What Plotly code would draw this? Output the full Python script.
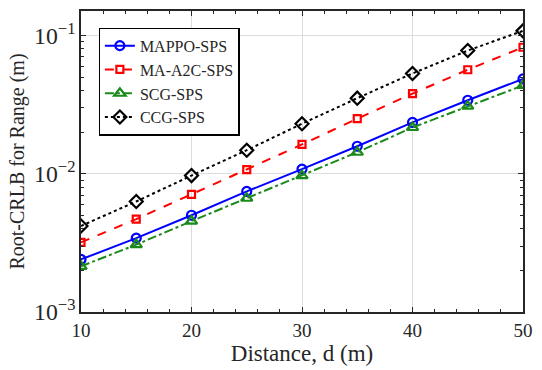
import plotly.graph_objects as go

distance = [10, 15, 20, 25, 30, 35, 40, 45, 50]
mappo = [0.00240, 0.00342, 0.00501, 0.00745, 0.0108, 0.0158, 0.0235, 0.0340, 0.0485]
ma_a2c = [0.00319, 0.00470, 0.0071, 0.0107, 0.0163, 0.0250, 0.0380, 0.0565, 0.0822]
scg = [0.00214, 0.00307, 0.00454, 0.00665, 0.00968, 0.0143, 0.0216, 0.0308, 0.0435]
ccg = [0.00419, 0.00630, 0.0097, 0.0148, 0.0230, 0.0352, 0.0531, 0.0778, 0.108]

font = "Liberation Serif"
dark = "#262626"
fig = go.Figure()
series = [
    ("MAPPO-SPS", mappo, "#0000ff", "solid", "circle-open", 9),
    ("MA-A2C-SPS", ma_a2c, "#ff0000", "dash", "square-open", 7),
    ("SCG-SPS", scg, "#1a8a1a", "dashdot", "triangle-up-open", 10),
    ("CCG-SPS", ccg, "#000000", "dot", "diamond-open", 10),
]
for name, vals, color, dash, sym, size in series:
    fig.add_trace(go.Scatter(
        x=distance, y=vals, name=name, mode="lines+markers",
        line=dict(color=color, width=2, dash=dash),
        marker=dict(symbol=sym, size=size, color=color, line=dict(width=2.2, color=color)),
    ))

# minor tick positions for the log axis (2..9 within each decade)
minor_y = [m * 10.0 ** e for e in (-3, -2, -1) for m in range(2, 10)]
minor_y = [v for v in minor_y if v < 0.15]
# invisible helper trace so the overlay axes are drawn
fig.add_trace(go.Scatter(x=[None], y=[None], xaxis="x2", yaxis="y2",
                         showlegend=False, hoverinfo="skip"))

axis_common = dict(
    showline=True, linecolor=dark, linewidth=1.5, mirror="allticks",
    ticks="inside", ticklen=5, tickcolor=dark,
    showgrid=True, gridcolor="#dcdcdc", gridwidth=1,
    zeroline=False, tickfont=dict(family=font, size=19, color=dark),
)
fig.update_xaxes(
    range=[10, 50], tickmode="linear", tick0=10, dtick=10,
    minor=dict(ticks="inside", ticklen=3, dtick=2, tickcolor=dark, showgrid=False),
    title=dict(text="Distance, d (m)", font=dict(family=font, size=23, color=dark), standoff=4),
    **axis_common,
)
fig.update_yaxes(
    type="log", range=[-3, -0.823], dtick=1, exponentformat="power",
    title=dict(text="Root-CRLB for Range (m)", font=dict(family=font, size=20, color=dark), standoff=4),
    **axis_common,
)
fig.update_layout(
    width=542, height=370,
    margin=dict(l=81, r=11, t=9, b=54),
    plot_bgcolor="white", paper_bgcolor="white",
    showlegend=True,
    xaxis2=dict(overlaying="x", range=[10, 50], showticklabels=False, showgrid=False,
                zeroline=False, ticks="", showline=False, visible=True),
    yaxis2=dict(overlaying="y", type="log", range=[-3, -0.823], tickmode="array",
                tickvals=minor_y, ticks="inside", ticklen=3, tickcolor=dark,
                mirror="allticks", showline=True, linecolor=dark, linewidth=1.5,
                showticklabels=False, showgrid=False, zeroline=False),
    legend=dict(
        x=0.04, y=0.945, xanchor="left", yanchor="top",
        bgcolor="white", bordercolor="black", borderwidth=1.2,
        font=dict(family=font, size=16, color=dark),
        tracegroupgap=0, entrywidth=150,
    ),
)
fig.write_html("out.html")
